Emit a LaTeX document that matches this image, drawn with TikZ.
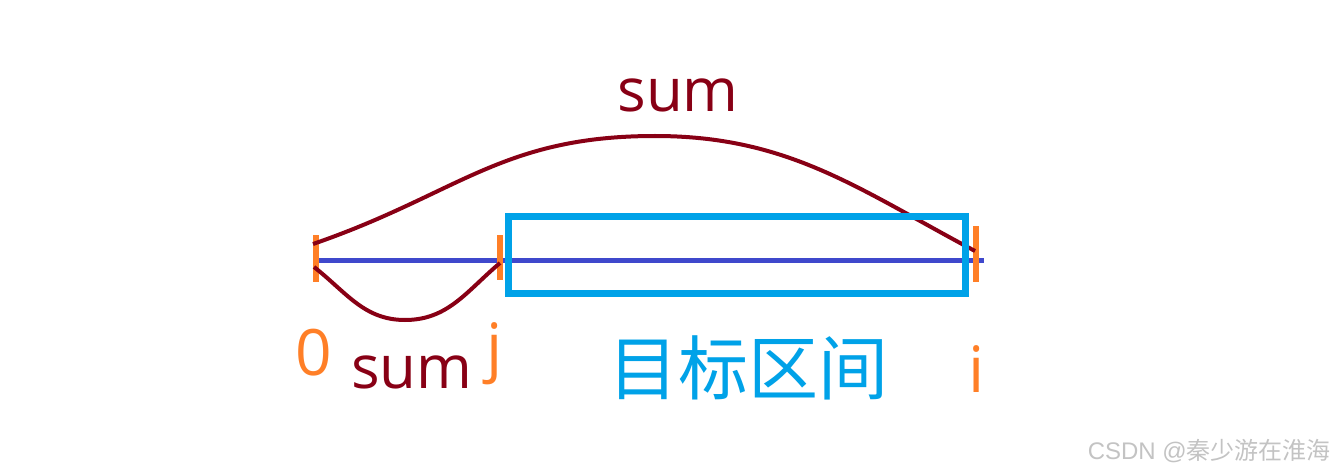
\documentclass[tikz,border=0pt]{standalone}
\usepackage{fontspec}
\setmainfont{Open Sans}
\newfontfamily\cjk{Noto Sans CJK SC}
\newfontfamily\marksans{Liberation Sans}
\definecolor{SumClr}{RGB}{136,0,21}
\definecolor{TickClr}{RGB}{255,127,39}
\definecolor{LineClr}{RGB}{63,72,204}
\definecolor{BoxClr}{RGB}{0,162,232}
\definecolor{MarkClr}{RGB}{195,195,195}

\begin{document}
\begin{tikzpicture}[x=1pt,y=1pt,
  TickLine/.style={line width=6pt,color=TickClr},
  SumLine/.style={line width=4pt,color=SumClr},
  SumLbl/.style={inner sep=0pt,text=SumClr,font=\fontsize{60}{70}\selectfont},
  TickLbl/.style={inner sep=0pt,text=TickClr,font=\fontsize{64}{74}\selectfont},
  BoxLbl/.style={inner sep=0pt,text=BoxClr,font=\cjk\fontsize{70}{80}\selectfont},
  MarkLbl/.style={inner sep=0pt,text=MarkClr,font=\fontsize{24}{28}\selectfont}]
\useasboundingbox (0,0) rectangle (1337,-473);

% points on the line
\coordinate (O) at (316,-259);
\coordinate (J) at (500,-258);
\coordinate (I) at (976,-254);
\coordinate (E) at (984,-260);

% top and bottom of the two sums
\coordinate (top) at (655,-136);
\coordinate (low) at (405,-320);

\draw[line width=5pt,color=LineClr] (O|-E) -- (E);

\draw[TickLine] ([yshift=24]O) -- ([yshift=-23]O);
\draw[TickLine] ([yshift=23]J) -- ([yshift=-22]J);
\draw[TickLine] ([yshift=28]I) -- ([yshift=-28]I);

\draw[SumLine] ([shift={(-3,15)}]O) to[out=19,in=180,looseness=1.1] (top)
  to[out=0,in=152] ([shift={(-1,3)}]I);
\draw[SumLine] ([shift={(-2,-8)}]O) to[out=-38,in=180] (low)
  to[out=0,in=-140] ([shift={(0,-5)}]J);

\draw[line width=7pt,color=BoxClr] (508.5,-216.5) rectangle (965.5,-293.5);

\node[SumLbl,anchor=base] (sumtop) at (678,-112) {sum};
\node[SumLbl,anchor=base] (sumlow) at (412,-388) {sum};
\node[TickLbl,anchor=base] (lbl0) at (314,-375) {0};
\node[TickLbl,anchor=base] (lblj) at (495,-369) {j};
\node[TickLbl,anchor=base] (lbli) at (977,-392) {i};
\node[BoxLbl] (lblbox) at (748,-368) {目标区间};
\node[MarkLbl,anchor=base east] (mark) at (1331,-459) {\marksans CSDN @\cjk 秦少游在淮海};

\end{tikzpicture}
\end{document}
